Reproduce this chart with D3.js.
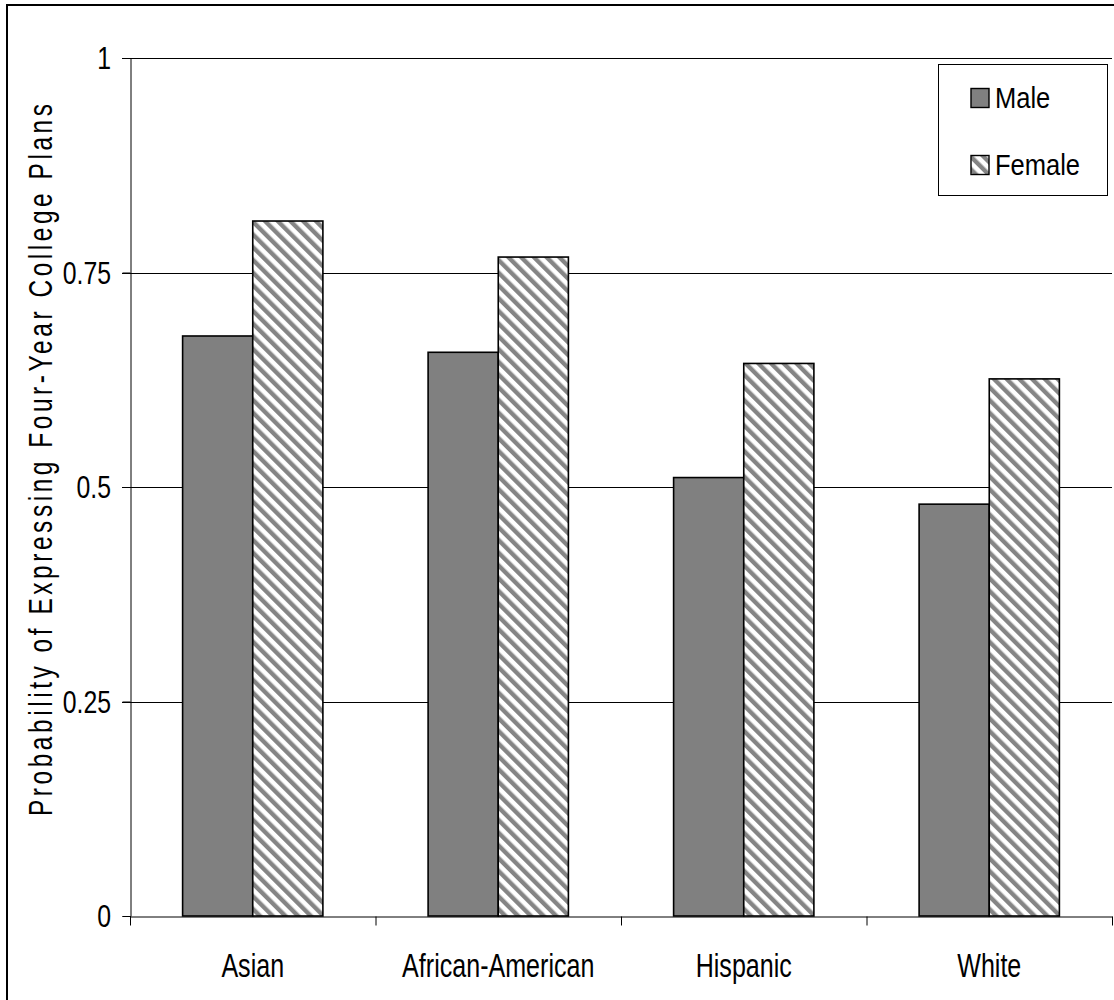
<!DOCTYPE html>
<html>
<head>
<meta charset="utf-8">
<script src="https://cdn.jsdelivr.net/npm/d3@7"></script>
<style>
  html, body { margin: 0; padding: 0; background: #fff; }
  svg { display: block; }
  text { font-family: "Liberation Sans", Arial, sans-serif; fill: #000; }
</style>
</head>
<body>
<svg id="chart" width="1114" height="1000"></svg>
<script>
// Groups along the x axis
const categories = ["Asian", "African-American", "Hispanic", "White"];
// Series names (legend order)
const seriesNames = ["Male", "Female"];
// Predicted probabilities per group
const maleValues = [0.676, 0.657, 0.511, 0.480];
const femaleValues = [0.810, 0.768, 0.644, 0.626];
// Y axis ticks
const yTicks = [0, 0.25, 0.5, 0.75, 1];
const yTickLabels = ["0", "0.25", "0.5", "0.75", "1"];
const yAxisTitle = "Probability of Expressing Four-Year College Plans";

const svg = d3.select("#chart");
const plot = { left: 130, right: 1112, top: 58, bottom: 916 };

// Hatch pattern for the female bars
const defs = svg.append("defs");
const pat = defs.append("pattern")
  .attr("id", "hatch")
  .attr("patternUnits", "userSpaceOnUse")
  .attr("width", 9).attr("height", 9)
  .attr("patternTransform", "rotate(-45)");
pat.append("rect").attr("width", 9).attr("height", 9).attr("fill", "#fff");
pat.append("rect").attr("x", 0).attr("width", 4.4).attr("height", 9).attr("fill", "#858585");

// Outer frame
svg.append("rect")
  .attr("x", 7).attr("y", 5).attr("width", 1120).attr("height", 1010)
  .attr("fill", "none").attr("stroke", "#000").attr("stroke-width", 2);

const y = d3.scaleLinear().domain([0, 1]).range([plot.bottom, plot.top]);
const x0 = d3.scaleBand().domain(categories).range([plot.left, plot.right]).padding(0);
// Two bars per group, gap between groups = 1.5 bar widths
const bw = x0.step() / 3.5;
const x1 = d3.scaleBand().domain(seriesNames)
  .range([0.75 * bw, 2.75 * bw]).padding(0);

// Gridlines
svg.append("g").selectAll("line")
  .data(yTicks.filter(d => d > 0))
  .join("line")
  .attr("x1", plot.left - 8).attr("x2", plot.right)
  .attr("y1", d => Math.round(y(d)) + 0.5).attr("y2", d => Math.round(y(d)) + 0.5)
  .attr("stroke", "#000").attr("stroke-width", 1);

// Bars
const rows = categories.map((c, i) => ({ cat: c, vals: [maleValues[i], femaleValues[i]] }));
const groups = svg.append("g").selectAll("g")
  .data(rows).join("g")
  .attr("transform", d => `translate(${x0(d.cat)},0)`);
groups.selectAll("rect")
  .data(d => d.vals.map((v, j) => ({ key: seriesNames[j], v })))
  .join("rect")
  .attr("x", d => x1(d.key))
  .attr("width", x1.bandwidth())
  .attr("y", d => y(d.v))
  .attr("height", d => y(0) - y(d.v))
  .attr("fill", d => d.key === "Male" ? "#808080" : "url(#hatch)")
  .attr("stroke", "#000").attr("stroke-width", 1.6);

// Y axis
const yAxis = d3.axisLeft(y).tickValues(yTicks).tickSize(8).tickFormat("");
const gy = svg.append("g").attr("transform", `translate(${plot.left + 0.5},0)`).call(yAxis);
gy.select(".domain").attr("stroke", "#000");
gy.selectAll(".tick line").attr("stroke", "#000");
svg.append("g").selectAll("text")
  .data(yTicks).join("text")
  .attr("transform", (d, i) => `translate(111,${y(d) + 11}) scale(0.8,1)`)
  .attr("text-anchor", "end")
  .style("font-size", "31px")
  .text((d, i) => yTickLabels[i]);

// X axis with ticks at group boundaries
const xb = d3.scaleLinear().domain([0, categories.length]).range([plot.left, plot.right]);
const xAxis = d3.axisBottom(xb).tickValues(d3.range(categories.length + 1)).tickSize(9).tickFormat("").tickSizeOuter(0);
const gx = svg.append("g").attr("transform", `translate(0,${plot.bottom + 0.5})`).call(xAxis);
gx.select(".domain").attr("stroke", "#000");
gx.selectAll(".tick line").attr("stroke", "#000");
svg.append("g").selectAll("text")
  .data(categories).join("text")
  .attr("transform", d => `translate(${x0(d) + x0.bandwidth() / 2},977) scale(0.76,1)`)
  .attr("text-anchor", "middle")
  .style("font-size", "33px")
  .text(d => d);

// Y axis title
svg.append("text")
  .attr("transform", "translate(52,460) rotate(-90) scale(0.72,1)")
  .attr("text-anchor", "middle")
  .style("font-size", "34px")
  .attr("textLength", 712 / 0.72)
  .attr("lengthAdjust", "spacing")
  .text(yAxisTitle);

// Legend
const lg = svg.append("g");
lg.append("rect")
  .attr("x", 938.5).attr("y", 64.5).attr("width", 169).attr("height", 131)
  .attr("fill", "#fff").attr("stroke", "#000").attr("stroke-width", 1);
const items = lg.selectAll("g.item").data(seriesNames).join("g")
  .attr("class", "item")
  .attr("transform", (d, i) => `translate(0,${i * 67})`);
items.append("rect")
  .attr("x", 971).attr("y", 88.5).attr("width", 18).attr("height", 19)
  .attr("fill", d => d === "Male" ? "#808080" : "url(#hatch)")
  .attr("stroke", "#000").attr("stroke-width", 1.4);
items.append("text")
  .attr("transform", "translate(995,108) scale(0.88,1)")
  .style("font-size", "29px")
  .text(d => d);
</script>
</body>
</html>
